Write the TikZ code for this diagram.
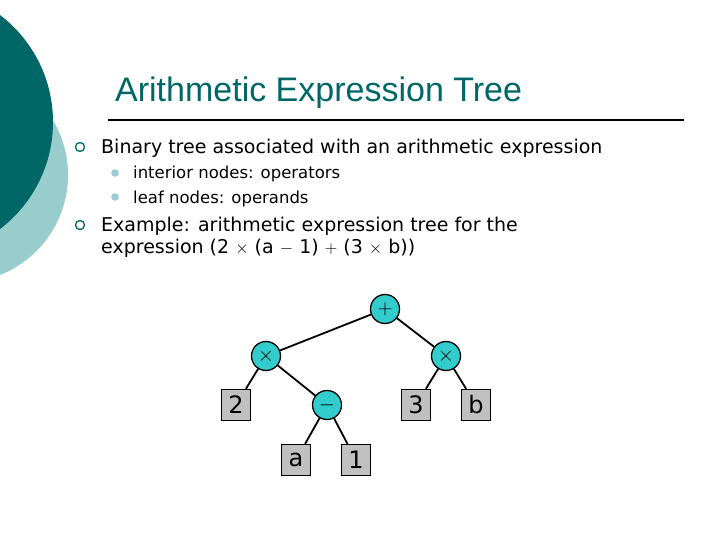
\documentclass[tikz,border=0pt]{standalone}
\usepackage{fontspec}
\setmainfont{DejaVu Sans}
\newfontfamily\titlefont{Liberation Sans}
\definecolor{dteal}{RGB}{0,102,102}
\definecolor{lteal}{RGB}{153,204,204}
\definecolor{ncyan}{RGB}{51,204,204}
\definecolor{ngray}{RGB}{192,192,192}
\tikzset{
 op/.style={circle,draw=black,line width=1.3pt,fill=ncyan,minimum size=29pt,inner sep=0pt,font=\fontsize{20}{20}\selectfont},
 leaf/.style={rectangle,draw=black,line width=1.3pt,fill=ngray,minimum width=29pt,minimum height=31pt,inner sep=0pt,font=\fontsize{24}{24}\selectfont},
 edge/.style={line width=1.8pt},
 txt/.style={anchor=base west,inner sep=0pt,font=\fontsize{19}{23}\selectfont},
}
\begin{document}
\begin{tikzpicture}[x=1pt,y=-1pt]
\useasboundingbox (0,0) rectangle (720,540);
\fill[lteal] (-39.5,175) circle (107.5);
\fill[dteal] (-81.5,122) circle (134.5);
\node[anchor=base west,inner sep=0pt,text=dteal,font=\titlefont\fontsize{34}{34}\selectfont] (title) at (115,102) {Arithmetic Expression Tree};
\draw[line width=1.5pt] (108,120) -- (684,120);
\draw[dteal,line width=1.3pt] (80,147) circle (4.5);
\draw[dteal,line width=1.3pt] (80,225) circle (4.5);
\fill[lteal] (115,173) circle (3.8);
\fill[lteal] (115,197) circle (3.8);
\node[txt] (b1) at (101,154) {Binary tree associated with an arithmetic expression};
\node[txt,font=\fontsize{16.5}{20}\selectfont] (s1) at (133,179) {interior nodes: operators};
\node[txt,font=\fontsize{16.5}{20}\selectfont] (s2) at (133,204) {leaf nodes: operands};
\node[txt] (b2) at (101,232) {Example: arithmetic expression tree for the};
\node[txt] (b3) at (101,254) {expression (2 $\times$ (a $-$ 1) $+$ (3 $\times$ b))};
\node[op] (p) at (385,309) {$+$};
\node[op] (m1) at (266,356) {$\times$};
\node[op] (m2) at (446,356) {$\times$};
\node[leaf] (l2) at (236,405) {2};
\node[op] (mi) at (327,405) {$-$};
\node[leaf] (l3) at (416,405) {3};
\node[leaf] (lb) at (476,405) {b};
\node[leaf] (la) at (296,460) {a};
\node[leaf] (l1) at (356,460) {1};
\draw[edge] (p) -- (m1);
\draw[edge] (p) -- (m2);
\draw[edge] (m1) -- (l2);
\draw[edge] (m1) -- (mi);
\draw[edge] (m2) -- (l3);
\draw[edge] (m2) -- (lb);
\draw[edge] (mi) -- (la);
\draw[edge] (mi) -- (l1);
\end{tikzpicture}
\end{document}
